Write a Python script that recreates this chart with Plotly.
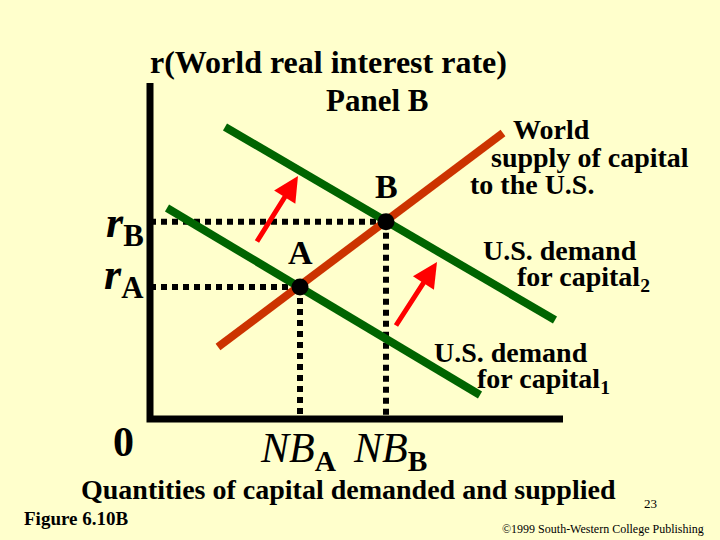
import plotly.graph_objects as go

# Schematic units: origin of the diagram at (0, 0)
# Equilibrium points
point_names = ["A", "B"]
eq_quantity = [3.75, 5.9]
eq_rate = [3.3, 4.93]

# Curves (two end points each)
supply_x = [1.7, 8.825]
supply_y = [1.8, 7.15]
demand1_x = [0.425, 8.25]
demand1_y = [5.275, 0.6]
demand2_x = [1.875, 10.125]
demand2_y = [7.3, 2.475]

# Shift arrows: tail -> tip
arrow_tail_x = [2.65, 6.125]
arrow_tail_y = [4.4, 2.3]
arrow_tip_x = [3.7, 7.175]
arrow_tip_y = [6.075, 3.925]

# Axis extent
axis_x = [0, 0, 10.325]
axis_y = [8.4, 0, 0]

# Tick labels
x_tick_labels = ["<i>NB</i><sub><b>A</b></sub>", "<i>NB</i><sub><b>B</b></sub>"]
y_tick_labels = ["<b><i>r</i></b><sub><b>A</b></sub>", "<b><i>r</i></b><sub><b>B</b></sub>"]

BG = "#FFFFCC"
GREEN = "#006400"
SUPPLY = "#CC3300"
SERIF = "Liberation Serif, Times New Roman, serif"

W, H = 720, 540
X0, Y0, UNIT = 150, 419, 40.0  # pixel of origin and pixels per unit


def paper(xp, yp):
    return xp / W, 1 - yp / H


fig = go.Figure()

# axes
fig.add_trace(go.Scatter(x=axis_x, y=axis_y, mode="lines",
                         line=dict(color="black", width=7)))

# dotted guides
for qx, ry in zip(eq_quantity, eq_rate):
    fig.add_trace(go.Scatter(x=[0, qx], y=[ry, ry], mode="lines",
                             line=dict(color="black", width=6, dash="6px,5px")))
    fig.add_trace(go.Scatter(x=[qx, qx], y=[ry, 0], mode="lines",
                             line=dict(color="black", width=6, dash="6px,5px")))

fig.add_trace(go.Scatter(x=demand1_x, y=demand1_y, mode="lines",
                         line=dict(color=GREEN, width=8)))
fig.add_trace(go.Scatter(x=demand2_x, y=demand2_y, mode="lines",
                         line=dict(color=GREEN, width=8)))
fig.add_trace(go.Scatter(x=supply_x, y=supply_y, mode="lines",
                         line=dict(color=SUPPLY, width=8)))

fig.add_trace(go.Scatter(x=eq_quantity, y=eq_rate, mode="markers",
                         marker=dict(color="black", size=17)))

# shift arrows
for tx, ty, hx, hy in zip(arrow_tail_x, arrow_tail_y, arrow_tip_x, arrow_tip_y):
    fig.add_annotation(x=hx, y=hy, ax=tx, ay=ty, xref="x", yref="y",
                       axref="x", ayref="y", text="", showarrow=True,
                       arrowhead=2, arrowsize=1.0, arrowwidth=5,
                       arrowcolor="#FF0000")

texts = [
    # text, x px, y px, anchor, size
    ("<b>r(World real interest rate)</b>", 328, 62, "center", 32),
    ("<b>Panel B</b>", 377, 101, "center", 31),
    ("<b>World</b>", 511, 130, "left", 28),
    ("<b>supply of capital</b>", 489, 157, "left", 28),
    ("<b>to the U.S.</b>", 468, 184, "left", 28),
    ("<b>U.S. demand</b>", 481, 250, "left", 28),
    ("<b>for capital<sub>2</sub></b>", 515, 278, "left", 28),
    ("<b>U.S. demand</b>", 432, 352, "left", 28),
    ("<b>for capital<sub>1</sub></b>", 475, 380, "left", 28),
    ("<b>0</b>", 123, 442, "center", 42),
    ("<b>Quantities of capital demanded and supplied</b>", 79, 489, "left", 28),
    ("<b>Figure 6.10B</b>", 22, 518, "left", 19),
    ("23", 650, 503, "center", 13),
    ("©1999 South-Western College Publishing", 500, 529, "left", 12),
]
for t, xp, yp, anc, size in texts:
    xx, yy = paper(xp, yp)
    fig.add_annotation(x=xx, y=yy, xref="paper", yref="paper", text=t,
                       showarrow=False, xanchor=anc, yanchor="middle",
                       font=dict(family=SERIF, size=size, color="black"))

# point labels
for name, qx, ry in zip(point_names, eq_quantity, eq_rate):
    fig.add_annotation(x=qx, y=ry, text="<b>%s</b>" % name, showarrow=False,
                       yshift=35, font=dict(family=SERIF, size=34, color="black"))

# quantity labels under the axis
for lab, qx, dx in zip(x_tick_labels, eq_quantity, [-2, 4]):
    fig.add_annotation(x=qx, y=0, text=lab, showarrow=False, yanchor="top",
                       yshift=-4, xshift=dx,
                       font=dict(family=SERIF, size=42, color="black"))

# rate labels left of the axis
for lab, ry, dy in zip(y_tick_labels, eq_rate, [10, -4]):
    fig.add_annotation(x=0, y=ry, text=lab, showarrow=False, xanchor="right",
                       xshift=-4, yshift=dy,
                       font=dict(family=SERIF, size=44, color="black"))

fig.update_layout(
    width=W, height=H,
    margin=dict(l=0, r=0, t=0, b=0),
    paper_bgcolor=BG, plot_bgcolor=BG,
    showlegend=False,
    xaxis=dict(range=[-X0 / UNIT, (W - X0) / UNIT], visible=False),
    yaxis=dict(range=[-(H - Y0) / UNIT, Y0 / UNIT], visible=False),
)

fig.write_html("out.html", config={"displayModeBar": False},
               post_script="document.body.style.margin='0';")
